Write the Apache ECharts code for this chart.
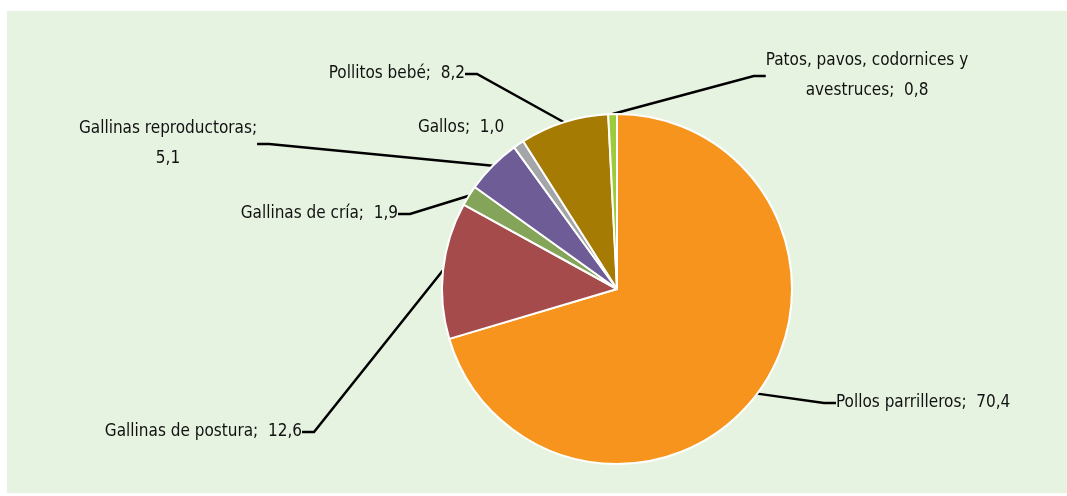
<!DOCTYPE html>
<html>
<head>
<meta charset="utf-8">
<script src="https://cdn.jsdelivr.net/npm/echarts@6/dist/echarts.min.js"></script>
<style>
  html, body { margin: 0; padding: 0; background: #ffffff; }
  #main { position: absolute; left: 7px; top: 11px; width: 1060px; height: 482px; background: #e7f3e1; }
</style>
</head>
<body>
<div id="main"></div>
<script>
// datos (porcentaje del total)
var categorias = ['Pollos parrilleros', 'Gallinas de postura', 'Gallinas de cría',
  'Gallinas reproductoras', 'Gallos', 'Pollitos bebé', 'Patos, pavos, codornices y avestruces'];
var valores = [70.4, 12.6, 1.9, 5.1, 1.0, 8.2, 0.8];
var colores = ['#f7941e', '#a64b4b', '#84a45a', '#6e5c97', '#a3a5a8', '#a67b04', '#9ccb3b'];

// donde va cada etiqueta (coordenadas dentro del grafico)
var posEtiquetas = [
  { x: 829, y: 392, align: 'left' },
  { x: 295, y: 421, align: 'right' },
  { x: 391, y: 203, align: 'right' },
  { x: 161, y: 133, align: 'center' },
  { x: 454, y: 117, align: 'center' },
  { x: 458, y: 63, align: 'right' },
  { x: 860, y: 65, align: 'center' }
];

function coma(v) { return v.toFixed(1).replace('.', ','); }

function texto(i) {
  if (i === 3) return categorias[i] + ';\n' + coma(valores[i]);
  if (i === 6) return 'Patos, pavos, codornices y\navestruces;  ' + coma(valores[i]);
  return categorias[i] + ';  ' + coma(valores[i]);
}

var myChart = echarts.init(document.getElementById('main'));

var datos = categorias.map(function (c, i) {
  var d = { name: c, value: valores[i], itemStyle: { color: colores[i] } };
  if (i === 4) d.labelLine = { show: false };
  return d;
});

var option = {
  animation: false,
  series: [{
    type: 'pie',
    center: [610, 278],
    radius: 175,
    startAngle: 90,
    clockwise: true,
    data: datos,
    itemStyle: { borderColor: '#ffffff', borderWidth: 2 },
    label: {
      show: true,
      formatter: function (p) { return texto(p.dataIndex); },
      color: '#111111',
      fontFamily: '"DejaVu Sans Condensed", sans-serif',
      fontSize: 17,
      lineHeight: 30,
      align: 'center'
    },
    labelLine: {
      show: true,
      length: 15,
      length2: 12,
      lineStyle: { color: '#000000', width: 2.5 }
    },
    labelLayout: function (params) {
      var p = posEtiquetas[params.dataIndex];
      return { x: p.x, y: p.y, align: p.align, verticalAlign: 'middle' };
    },
    emphasis: { disabled: true }
  }]
};

myChart.setOption(option);
</script>
</body>
</html>
